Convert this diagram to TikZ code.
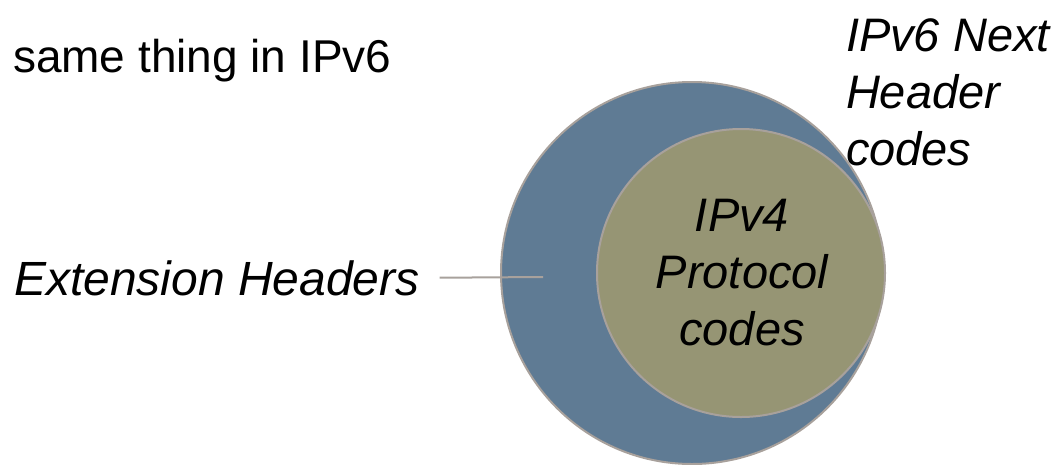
\documentclass[tikz,border=0pt]{standalone}
\usepackage{fontspec}
\setmainfont{Liberation Sans}
\usepackage{xcolor}
\usepackage{tikz}
\usetikzlibrary{positioning,shapes}
\definecolor{slateblue}{HTML}{5F7B94}
\definecolor{olive}{HTML}{969574}
\definecolor{rimgray}{HTML}{A8A19C}
\tikzstyle{ring}=[%
      circle, draw=rimgray, line width=2pt, inner sep=0pt
]
\tikzstyle{lbl}=[%
      inner sep=0pt, outer sep=0pt, font=\fontsize{47}{57}\selectfont\itshape
]
\tikzstyle{plain}=[%
      inner sep=0pt, outer sep=0pt, font=\fontsize{46}{57}\selectfont
]

\begin{document}
\begin{tikzpicture}[x=1pt, y=-1pt]
    \useasboundingbox (0,0) rectangle (1064,464);

    \node[ring, fill=slateblue, minimum size=382pt] (v6) at (692,273) {};
    \node[ring, fill=olive, minimum size=288pt]     (v4) at (741,273) {};

    \node[plain, anchor=base west] (same) at (13,72) {same thing in IPv6};
    \node[lbl, align=left, anchor=north west] (next) at (846,19) {IPv6 Next\\Header\\codes};
    \node[lbl, align=center] (proto) at (742,273) {IPv4\\Protocol\\codes};
    \node[lbl, anchor=base west, font=\fontsize{48}{57}\selectfont\itshape] (ext) at (14,295) {Extension Headers};

    \coordinate (tip) at (543,277);
    \draw[rimgray, line width=2pt, shorten <=20pt] (ext.east) -- (tip);

  \end{tikzpicture}
\end{document}
